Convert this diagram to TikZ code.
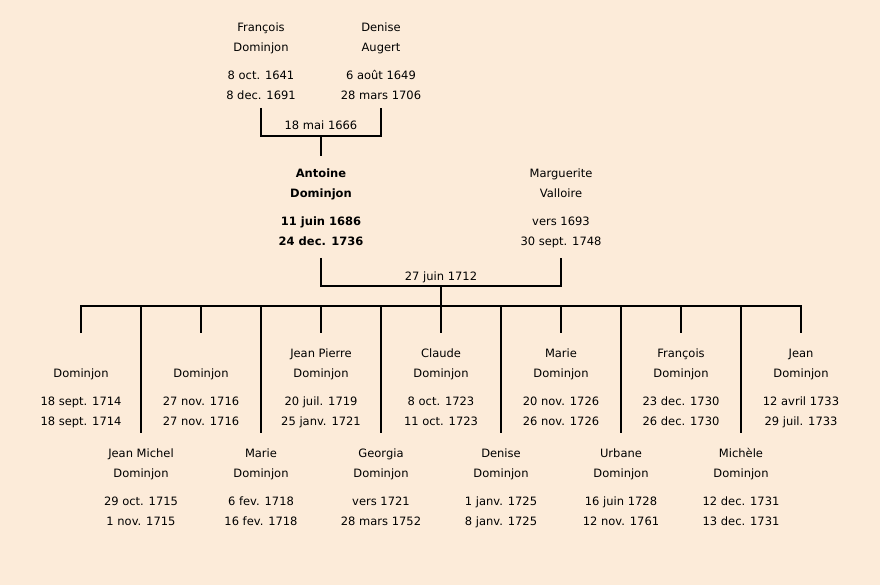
\documentclass[tikz,border=0pt]{standalone}
\usepackage{fontspec}
\setmainfont{DejaVu Sans}
\definecolor{bg}{RGB}{252,235,217}
\newcommand\st{\vrule width 0pt height 12pt depth 8pt}
\newcommand\pr[4]{\st #1\\\st #2\\[8pt]\st #3\\\st #4}
\tikzset{
  person/.style={font=\fontsize{11.5}{20}\selectfont, align=center, inner xsep=0pt, inner ysep=0pt},
  child/.style={person, anchor=north, inner ysep=12pt},
  lbl/.style={font=\fontsize{11.5}{12}\selectfont, inner sep=0pt, anchor=base},
  conn/.style={line width=2pt, draw=black}
}
\begin{document}
\begin{tikzpicture}[x=1pt,y=-1pt]
\fill[bg] (0,0) rectangle (880,585);
\useasboundingbox (0,0) rectangle (880,585);
% grandparents
\node[person, anchor=south] (fr) at (261,108) {\pr{François}{Dominjon}{8 oct. 1641}{8 dec. 1691}};
\node[person, anchor=south] (de) at (381,108) {\pr{Denise}{Augert}{6 août 1649}{28 mars 1706}};
\coordinate (m1) at (321,136);
\node[lbl] (l1) at (321,130) {18 mai 1666};
\draw[conn] (fr.south) |- (m1) -| (de.south);
% parents
\node[person, anchor=south, inner ysep=4.3pt, font=\fontsize{11.5}{20}\selectfont\bfseries] (ant) at (321,258) {\pr{Antoine}{Dominjon}{11 juin 1686}{24 dec. 1736}};
\node[person, anchor=south, inner ysep=4.3pt] (mar) at (561,258) {\pr{Marguerite}{Valloire}{vers 1693}{30 sept. 1748}};
\draw[conn] (m1) -- ++(0,20);
\coordinate (m2) at (441,286);
\node[lbl] (l2) at (441,280) {27 juin 1712};
\draw[conn] (ant.south) |- (m2) -| (mar.south);
\coordinate (bar) at (441,306);
\draw[conn] (m2) -- (bar);
% children, top row
\node[child] (c1) at (81,333) {\pr{}{Dominjon}{18 sept. 1714}{18 sept. 1714}};
\node[child] (c3) at (201,333) {\pr{}{Dominjon}{27 nov. 1716}{27 nov. 1716}};
\node[child] (c5) at (321,333) {\pr{Jean Pierre}{Dominjon}{20 juil. 1719}{25 janv. 1721}};
\node[child] (c7) at (441,333) {\pr{Claude}{Dominjon}{8 oct. 1723}{11 oct. 1723}};
\node[child] (c9) at (561,333) {\pr{Marie}{Dominjon}{20 nov. 1726}{26 nov. 1726}};
\node[child] (c11) at (681,333) {\pr{François}{Dominjon}{23 dec. 1730}{26 dec. 1730}};
\node[child] (c13) at (801,333) {\pr{Jean}{Dominjon}{12 avril 1733}{29 juil. 1733}};
% children, bottom row
\node[child] (c2) at (141,433) {\pr{Jean Michel}{Dominjon}{29 oct. 1715}{1 nov. 1715}};
\node[child] (c4) at (261,433) {\pr{Marie}{Dominjon}{6 fev. 1718}{16 fev. 1718}};
\node[child] (c6) at (381,433) {\pr{Georgia}{Dominjon}{vers 1721}{28 mars 1752}};
\node[child] (c8) at (501,433) {\pr{Denise}{Dominjon}{1 janv. 1725}{8 janv. 1725}};
\node[child] (c10) at (621,433) {\pr{Urbane}{Dominjon}{16 juin 1728}{12 nov. 1761}};
\node[child] (c12) at (741,433) {\pr{Michèle}{Dominjon}{12 dec. 1731}{13 dec. 1731}};
% sibling bar
\draw[conn] (c1.north) |- (bar) -| (c13.north);
\foreach \c in {c2,c3,c4,c5,c6,c7,c8,c9,c10,c11,c12}
  \draw[conn] (\c.north |- bar) -- (\c.north);
\end{tikzpicture}
\end{document}
